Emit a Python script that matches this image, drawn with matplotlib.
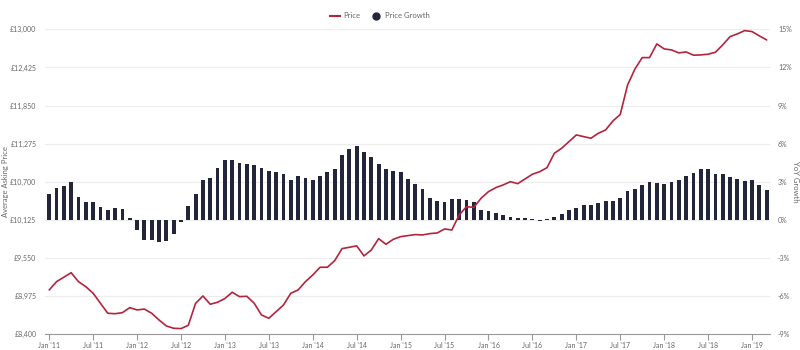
import matplotlib
matplotlib.use("Agg")
import matplotlib.pyplot as plt
from matplotlib.lines import Line2D
import numpy as np

# Monthly data, Jan 2011 .. Mar 2019
price = [9064, 9189, 9256, 9325, 9189, 9114, 9014, 8863, 8712, 8705,
         8721, 8797, 8762, 8775, 8712, 8610, 8520, 8485, 8480, 8530,
         8863, 8973, 8848, 8878, 8935, 9029, 8963, 8968, 8863, 8686,
         8636, 8736, 8837, 9014, 9064, 9189, 9290, 9407, 9407, 9507,
         9688, 9709, 9730, 9578, 9668, 9839, 9754, 9829, 9869, 9885,
         9900, 9895, 9915, 9925, 9985, 9970, 10197, 10322, 10312, 10450,
         10549, 10610, 10650, 10700, 10670, 10741, 10812, 10851, 10912, 11129,
         11205, 11305, 11406, 11380, 11356, 11431, 11481, 11617, 11715, 12160,
         12400, 12574, 12574, 12781, 12705, 12690, 12645, 12660, 12610, 12615,
         12625, 12655, 12766, 12891, 12932, 12982, 12967, 12902, 12841]

growth = [2.03, 2.47, 2.63, 2.95, 1.79, 1.37, 1.37, 0.97, 0.79, 0.92,
          0.87, 0.16, -0.79, -1.58, -1.63, -1.76, -1.68, -1.16, -0.18, 1.10,
          2.05, 3.10, 3.30, 4.05, 4.74, 4.74, 4.47, 4.39, 4.34, 4.05,
          3.87, 3.74, 3.63, 3.13, 3.42, 3.29, 3.16, 3.45, 3.76, 4.00,
          5.13, 5.58, 5.82, 5.32, 4.95, 4.39, 4.03, 3.87, 3.79, 3.21,
          2.82, 2.42, 1.71, 1.47, 1.37, 1.66, 1.66, 1.58, 1.37, 0.79,
          0.66, 0.50, 0.37, 0.21, 0.16, 0.10, 0.08, -0.08, 0.05, 0.21,
          0.47, 0.74, 0.89, 1.16, 1.18, 1.34, 1.47, 1.50, 1.71, 2.26,
          2.39, 2.74, 2.95, 2.89, 2.82, 2.95, 3.16, 3.47, 3.71, 3.97,
          3.97, 3.63, 3.63, 3.39, 3.21, 3.05, 3.13, 2.71, 2.37]

tick_labels = ["Jan '11", "Jul '11", "Jan '12", "Jul '12", "Jan '13", "Jul '13",
               "Jan '14", "Jul '14", "Jan '15", "Jul '15", "Jan '16", "Jul '16",
               "Jan '17", "Jul '17", "Jan '18", "Jul '18", "Jan '19"]
price_ticks = [8400, 8975, 9550, 10125, 10700, 11275, 11850, 12425, 13000]
growth_ticks = [-9, -6, -3, 0, 3, 6, 9, 12, 15]

RED = "#B3243D"
NAVY = "#23263A"
GRID = "#ECECEC"
TXT = "#666666"

plt.rcParams['font.family'] = ['Lato', 'DejaVu Sans']

fig = plt.figure(figsize=(8, 3.5), dpi=100)
ax = fig.add_axes([0.056, 0.046, 0.906, 0.870])
ax2 = ax.twinx()
ax.set_zorder(ax2.get_zorder() + 1)
ax.patch.set_visible(False)

x = np.arange(len(price))
ax2.bar(x, growth, width=0.52, color=NAVY, zorder=2)
ax2.set_ylim(-9, 15)
ax2.set_yticks(growth_ticks)
ax2.set_yticklabels([f"{t}%" for t in growth_ticks])
ax2.grid(axis='y', color=GRID, linewidth=0.8, zorder=0)
ax2.set_axisbelow(True)

ax.plot(x, price, color=RED, linewidth=1.2, solid_joinstyle='round',
        solid_capstyle='round', zorder=3)
ax.set_ylim(8400, 13000)
ax.set_yticks(price_ticks)
ax.set_yticklabels([f"£{t:,}" for t in price_ticks])
ax.set_xlim(-0.6, 98.4)
ax.set_xticks(np.arange(0, 97, 6))
ax.set_xticklabels(tick_labels)

for a in (ax, ax2):
    for s in ('top', 'left', 'right', 'bottom'):
        a.spines[s].set_visible(False)
    a.tick_params(axis='y', length=0, labelsize=5, labelcolor=TXT, pad=6)
ax.spines['bottom'].set_visible(True)
ax.spines['bottom'].set_color("#999999")
ax.spines['bottom'].set_linewidth(0.8)
ax.tick_params(axis='x', length=4, width=0.8, color="#999999",
               labelsize=5, labelcolor=TXT, pad=2)

ax.set_ylabel("Average Asking Price", fontsize=5.5, color=TXT)
ax.yaxis.set_label_coords(-0.05, 0.5)
ax2.set_ylabel("YoY Growth", fontsize=5.5, color=TXT, rotation=270,
               va='center')
ax2.yaxis.set_label_coords(1.036, 0.5)

handles = [Line2D([0], [0], color=RED, lw=1.5),
           Line2D([0], [0], marker='o', color='none', markerfacecolor=NAVY,
                  markeredgecolor=NAVY, markersize=5)]
fig.legend(handles, ["Price", "Price Growth"], loc='center',
           bbox_to_anchor=(0.475, 0.955), ncol=2, frameon=False,
           fontsize=5.5, labelcolor=TXT, handlelength=1.2, columnspacing=1.5,
           handletextpad=0.5)

fig.savefig("out.png", dpi=100)
